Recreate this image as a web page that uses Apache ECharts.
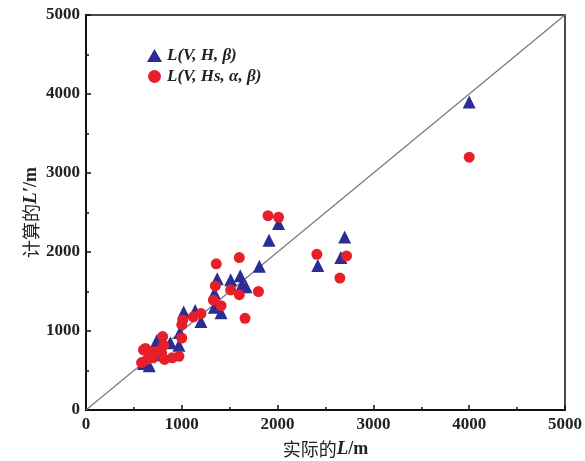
<!DOCTYPE html>
<html><head><meta charset="utf-8">
<script src="https://cdn.jsdelivr.net/npm/echarts@6/dist/echarts.min.js"></script>
<style>html,body{margin:0;padding:0;background:#fff}#c{width:585px;height:461px}</style>
</head><body><div id="c"></div>
<script>
var xTicks = [0, 1000, 2000, 3000, 4000, 5000];
var seriesNames = ['L(V, H, β)', 'L(V, Hs, α, β)'];
var blueX = [600, 660, 720, 740, 880, 970, 980, 1020, 1140, 1200, 1340, 1370, 1340, 1410, 1510, 1610, 1630, 1670, 1810, 1910, 2010, 2420, 2660, 2700, 4000];
var blueY = [590, 560, 700, 880, 850, 820, 980, 1240, 1260, 1120, 1480, 1660, 1300, 1230, 1650, 1700, 1590, 1560, 1820, 2150, 2360, 1830, 1930, 2190, 3900];
var redX = [580, 600, 620, 640, 670, 700, 740, 790, 800, 810, 820, 900, 970, 1000, 1000, 1010, 1120, 1200, 1330, 1350, 1360, 1410, 1510, 1600, 1600, 1660, 1800, 1900, 2010, 2410, 2650, 2720, 4000];
var redY = [600, 760, 780, 640, 740, 660, 740, 720, 930, 820, 640, 660, 680, 910, 1080, 1140, 1180, 1220, 1390, 1570, 1850, 1320, 1520, 1460, 1930, 1160, 1500, 2460, 2440, 1970, 1670, 1950, 3200];
var diagX = [0, 5000];

function pairs(xs, ys){ return xs.map(function(v,i){return [v, ys[i]];}); }

var chart = echarts.init(document.getElementById('c'));
var tickFont = {fontFamily:'Liberation Serif', fontWeight:'bold', fontSize:17, color:'#222', margin:6,
  formatter:function(v){return String(v);}};
var nameRich = {
  c:{fontFamily:'Noto Sans CJK SC', fontSize:18, color:'#222'},
  i:{fontFamily:'Liberation Serif', fontStyle:'italic', fontWeight:'bold', fontSize:19, color:'#222'},
  n:{fontFamily:'Liberation Serif', fontWeight:'bold', fontSize:18, color:'#222'}
};
chart.setOption({
  animation:false,
  grid:{left:86, right:20, top:15, bottom:51, show:true, borderColor:'#111', borderWidth:1.5,
        containLabel:false, outerBoundsMode:'none'},
  legend:{
    left:142, top:42, orient:'vertical', itemGap:4, itemWidth:15, itemHeight:13,
    data:[{name:seriesNames[0], icon:'triangle'},{name:seriesNames[1], icon:'circle'}],
    textStyle:{fontFamily:'Liberation Serif', fontStyle:'italic', fontWeight:'bold', fontSize:17, color:'#222'}
  },
  xAxis:{
    type:'value', min:0, max:5000, interval:1000,
    axisLine:{lineStyle:{color:'#111', width:2}},
    axisTick:{inside:true, length:5, lineStyle:{color:'#111', width:1.5}},
    minorTick:{show:true, splitNumber:2, length:3, lineStyle:{color:'#111', width:1.5}},
    splitLine:{show:false},
    axisLabel:tickFont,
    name:'{c|实际的}{i|L}{n|/m}', nameLocation:'middle', nameGap:30,
    nameTextStyle:{rich:nameRich}
  },
  yAxis:{
    type:'value', min:0, max:5000, interval:1000,
    axisLine:{lineStyle:{color:'#111', width:2}},
    axisTick:{inside:true, length:5, lineStyle:{color:'#111', width:1.5}},
    minorTick:{show:true, splitNumber:2, length:3, lineStyle:{color:'#111', width:1.5}},
    splitLine:{show:false},
    axisLabel:tickFont,
    name:'{c|计算的}{i|L′}{n|/m}', nameLocation:'middle', nameGap:45, nameMoveOverlap:false,
    nameTextStyle:{rich:nameRich}
  },
  series:[
    {type:'line', data:pairs(diagX, diagX), symbol:'none', silent:true,
     lineStyle:{color:'#777', width:1.2}, z:1},
    {name:seriesNames[0], type:'scatter', symbol:'triangle', symbolSize:13,
     itemStyle:{color:'#2a2d96', opacity:1}, data:pairs(blueX, blueY), z:2},
    {name:seriesNames[1], type:'scatter', symbol:'circle', symbolSize:11,
     itemStyle:{color:'#e5202a', opacity:1}, data:pairs(redX, redY), z:3}
  ]
});
</script></body></html>
